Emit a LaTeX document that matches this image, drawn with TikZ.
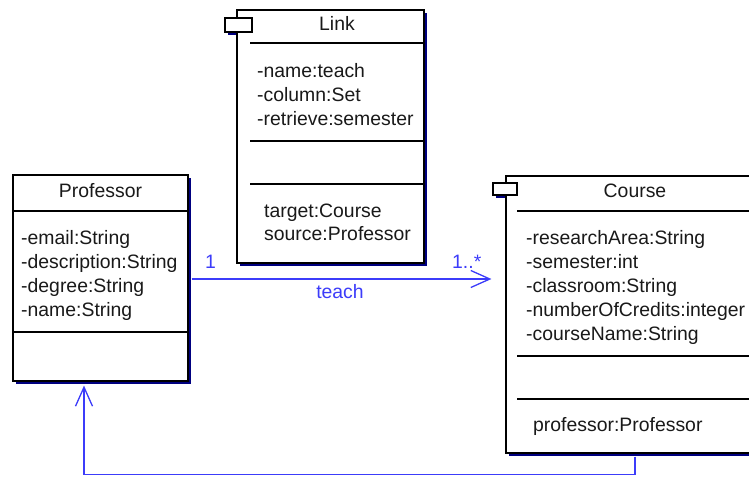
\documentclass[tikz,border=0pt]{standalone}
\usepackage{fontspec}
\setmainfont{Liberation Sans}
\usetikzlibrary{arrows.meta,shadows}
\definecolor{navyshadow}{RGB}{0,0,128}
\definecolor{linkblue}{RGB}{60,60,250}
\definecolor{txtgray}{RGB}{25,25,25}
\begin{document}
\begin{tikzpicture}[x=1pt,y=-1pt,
  classbox/.style={draw=black, line width=1.2pt, fill=white, inner sep=0pt,
    general shadow={shadow xshift=3pt, shadow yshift=-3pt, fill=navyshadow}},
  tabbox/.style={draw=black, line width=1.2pt, fill=white, inner sep=0pt},
  sepline/.style={draw=black, line width=1.1pt},
  txt/.style={font=\fontsize{19.4}{23}\selectfont, text=txtgray, anchor=base west, inner sep=0pt},
  ttl/.style={font=\fontsize{19.4}{23}\selectfont, text=txtgray, anchor=base, inner sep=0pt},
  lbl/.style={font=\fontsize{19.4}{23}\selectfont, text=linkblue, anchor=base west, inner sep=0pt},
  assoc/.style={draw=linkblue, line width=1.3pt, -{Straight Barb[length=19pt,width=17pt]}}
]
\useasboundingbox (0,0) rectangle (749,477);
\clip (0,0) rectangle (749,477);
\fill[white] (0,0) rectangle (749,477);

% tab shadows (drawn under the boxes)
\fill[navyshadow] (228,21) rectangle (255,35);
\fill[navyshadow] (496,186) rectangle (520,198);

% class boxes
\node[classbox, minimum width=175pt, minimum height=206pt] (prof) at (100.5,278) {};
\node[classbox, minimum width=187pt, minimum height=253pt] (link) at (330.5,136.5) {};
\node[classbox, minimum width=247pt, minimum height=277pt] (course) at (629.5,314.5) {};

% tabs
\node[tabbox, minimum width=27pt, minimum height=14pt] (linktab) at (238.5,25) {};
\node[tabbox, minimum width=24pt, minimum height=12pt] (coursetab) at (505,189) {};

% Professor content
\node[ttl] (profT) at (100.5,197) {Professor};
\draw[sepline] (13,211) -- (188,211);
\node[txt] (p1) at (21,244) {-email:String};
\node[txt] (p2) at (21,268) {-description:String};
\node[txt] (p3) at (21,292) {-degree:String};
\node[txt] (p4) at (21,316) {-name:String};
\draw[sepline] (13,332) -- (188,332);

% Link content
\node[ttl] (linkT) at (337,30) {Link};
\draw[sepline] (250,43) -- (424,43);
\node[txt] (l1) at (257,77) {-name:teach};
\node[txt] (l2) at (257,101) {-column:Set};
\node[txt] (l3) at (257,125) {-retrieve:semester};
\draw[sepline] (250,141) -- (424,141);
\draw[sepline] (250,184) -- (424,184);
\node[txt] (l4) at (264,217) {target:Course};
\node[txt] (l5) at (264,240) {source:Professor};

% Course content
\node[ttl] (courseT) at (635,197) {Course};
\draw[sepline] (517,211) -- (753,211);
\node[txt] (c1) at (526,244) {-researchArea:String};
\node[txt] (c2) at (526,268) {-semester:int};
\node[txt] (c3) at (526,292) {-classroom:String};
\node[txt] (c4) at (526,316) {-numberOfCredits:integer};
\node[txt] (c5) at (526,340) {-courseName:String};
\draw[sepline] (517,356) -- (753,356);
\draw[sepline] (517,399) -- (753,399);
\node[txt] (c6) at (533,431) {professor:Professor};

% connectors
\draw[assoc] ([xshift=3pt,yshift=-1pt]prof.east) -- ([xshift=-14pt,yshift=-1pt]course.west |- prof.east);
\draw[assoc] ([xshift=5.5pt,yshift=-3pt]course.south) -- ++(0,18) -| ([xshift=-16.5pt,yshift=-4pt]prof.south);

% labels
\node[lbl] (m1) at (205,268) {1};
\node[lbl] (m2) at (452,268) {1..*};
\node[lbl, anchor=base] (an) at (340,298) {teach};
\end{tikzpicture}
\end{document}
